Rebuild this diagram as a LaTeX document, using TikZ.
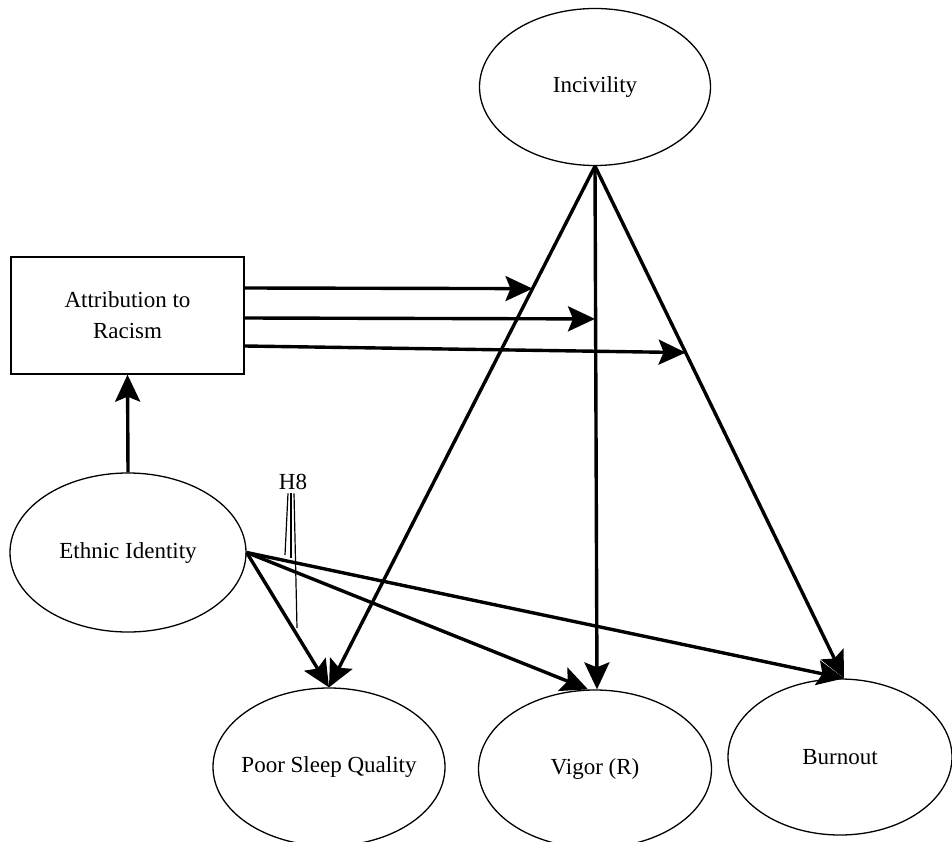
\documentclass[tikz,border=0pt]{standalone}
\usepackage{fontspec}
\setmainfont{Liberation Serif}
\usetikzlibrary{shapes.geometric,arrows.meta,calc}
\begin{document}
\begin{tikzpicture}[x=1pt,y=-1pt,
  lbl/.style={font=\fontsize{23}{31}\selectfont},
  oval/.style={ellipse,draw,line width=1.3pt,inner sep=0pt},
  boxnode/.style={rectangle,draw,line width=1.3pt,inner sep=0pt,lbl,align=center},
  arr/.style={line width=3.4pt,-{Stealth[length=27pt,width=25pt,inset=5pt]}},
  thin/.style={line width=1.2pt}]
\useasboundingbox (0,0) rectangle (952,842);
\node[oval,minimum width=231pt,minimum height=157pt,label={[lbl]center:Incivility}] (inc) at (595,87) {};
\node[boxnode,minimum width=233pt,minimum height=117pt] (att) at (127.5,315.5) {Attribution to\\Racism};
\node[oval,minimum width=236pt,minimum height=159pt,label={[lbl]center:Ethnic Identity}] (eth) at (128,552.5) {};
\node[oval,minimum width=232pt,minimum height=158pt,label={[lbl]center:Poor Sleep Quality}] (psq) at (329,767) {};
\node[oval,minimum width=233pt,minimum height=158pt,label={[lbl]center:Vigor (R)}] (vig) at (595,769) {};
\node[oval,minimum width=224pt,minimum height=156pt,label={[lbl]center:Burnout}] (bur) at (840,757) {};
\node[lbl] (h8) at (293,482) {H8};

% Incivility paths
\draw[arr] (inc.south) -- (psq.north);
\draw[arr] (inc.south) -- ($(vig.north)+(2,0)$);
\draw[arr] (inc.south) -- ($(bur.north)+(4,0)$);

% Ethnic identity paths
\draw[arr] (eth.north) -- (att.south);
\draw[arr] (eth.east) -- (psq.north);
\draw[arr] (eth.east) -- ($(vig.north)+(-7,0)$);
\draw[arr] (eth.east) -- ($(bur.north)+(4,0)$);

% Moderation arrows
\coordinate (m1) at ($(inc.south)!0.235!(psq.north)$);
\coordinate (m2) at ($(inc.south)!0.292!(vig.north)$);
\coordinate (m3) at ($(inc.south)!0.364!($(bur.north)+(4,0)$)$);
\draw[arr] (att.east |- 0,288) -- (m1);
\draw[arr] (att.east |- 0,318) -- (m2);
\draw[arr] (att.east |- 0,346) -- (m3);

% H8 marks
\coordinate (h1) at (285,555);
\coordinate (h2) at (291,558);
\coordinate (h3) at (297,628);
\draw[thin] ($(h8.south)+(-5,0)$) -- (h1);
\draw[thin] ($(h8.south)+(-2,0)$) -- (h2);
\draw[thin] ($(h8.south)+(1,0)$) -- (h3);
\end{tikzpicture}
\end{document}
